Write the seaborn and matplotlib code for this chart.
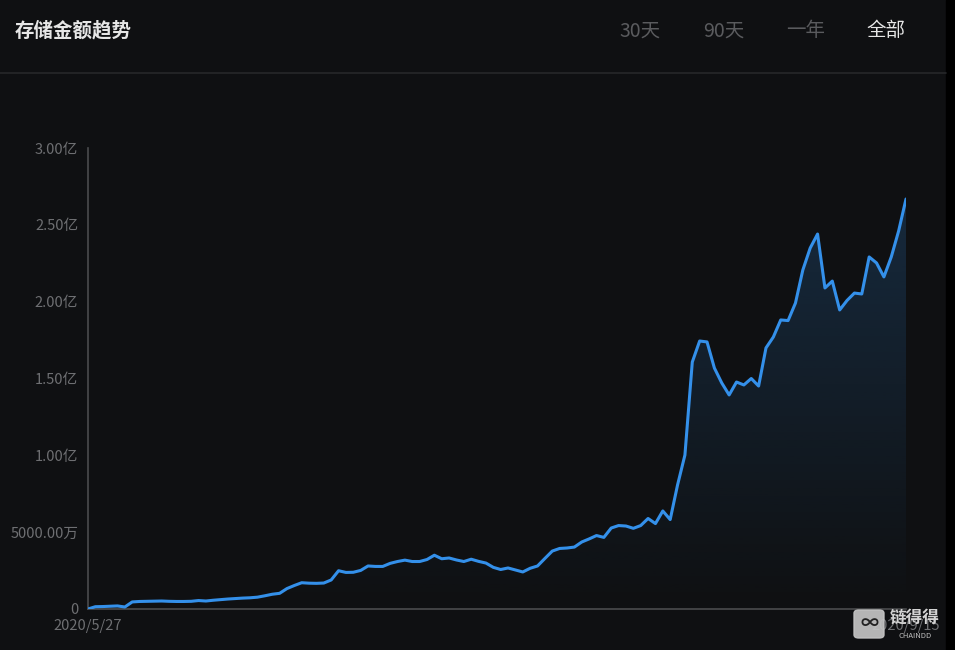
import numpy as np
import pandas as pd
import matplotlib
matplotlib.use("Agg")
import matplotlib.pyplot as plt
from matplotlib.lines import Line2D
from matplotlib.patches import Rectangle, FancyBboxPatch
import seaborn as sns

# Storage amount per day, in 亿 (100 million)
start_date = "2020-05-27"
start_label = "2020/5/27"
end_label = "2020/9/15"
amounts = [
    0.000, 0.015, 0.016, 0.018, 0.020, 0.013, 0.046, 0.049, 0.050, 0.051,
    0.052, 0.050, 0.049, 0.049, 0.050, 0.055, 0.052, 0.057, 0.061, 0.065,
    0.068, 0.071, 0.073, 0.077, 0.086, 0.096, 0.102, 0.133, 0.153, 0.171,
    0.168, 0.167, 0.169, 0.189, 0.249, 0.238, 0.239, 0.251, 0.280, 0.277,
    0.277, 0.297, 0.309, 0.318, 0.309, 0.309, 0.322, 0.350, 0.327, 0.332,
    0.319, 0.309, 0.324, 0.310, 0.299, 0.271, 0.257, 0.267, 0.254, 0.241,
    0.265, 0.280, 0.329, 0.377, 0.394, 0.397, 0.403, 0.436, 0.456, 0.478,
    0.466, 0.527, 0.543, 0.540, 0.525, 0.543, 0.589, 0.556, 0.638, 0.582,
    0.807, 1.002, 1.607, 1.744, 1.738, 1.568, 1.471, 1.393, 1.477, 1.458,
    1.500, 1.451, 1.699, 1.770, 1.881, 1.877, 1.991, 2.206, 2.349, 2.440,
    2.089, 2.134, 1.946, 2.008, 2.056, 2.050, 2.291, 2.252, 2.161, 2.291,
    2.460, 2.668,
]
dates = pd.date_range(start_date, periods=len(amounts), freq="D")

yticks = [0, 0.5, 1.0, 1.5, 2.0, 2.5, 3.0]
ytick_labels = ["0", "5000.00万", "1.00亿", "1.50亿", "2.00亿", "2.50亿", "3.00亿"]
ranges = ["30天", "90天", "一年", "全部"]
range_x = [640, 724, 806, 886]

BG = "#0f1012"
LINE = "#3490ea"
AXIS = "#4a4b4e"
LABEL = "#6e6f72"

sns.set_style("dark")
plt.rcParams["font.family"] = ["Noto Sans CJK SC", "DejaVu Sans"]

W, H = 955, 650
fig = plt.figure(figsize=(W / 100, H / 100), dpi=100, facecolor=BG)
ax = fig.add_axes([88 / W, (H - 609) / H, 818 / W, 461 / H])
ax.set_facecolor(BG)

df = pd.DataFrame({"date": dates, "amount": amounts})
sns.lineplot(data=df, x="date", y="amount", ax=ax, color=LINE, linewidth=2.2, zorder=3)

# gradient area under the line
poly = ax.fill_between(df["date"], df["amount"], 0, facecolor="none", edgecolor="none")
grad = np.zeros((256, 1, 4))
grad[..., 0], grad[..., 1], grad[..., 2] = 52 / 255, 144 / 255, 234 / 255
grad[..., 3] = np.linspace(0.2, 0.0, 256)[:, None]
x0 = matplotlib.dates.date2num(dates[0])
x1 = matplotlib.dates.date2num(dates[-1])
im = ax.imshow(grad, aspect="auto", extent=[x0, x1, 0, max(amounts)],
               origin="upper", zorder=1)
im.set_clip_path(poly.get_paths()[0], transform=ax.transData)

ax.set_xlim(dates[0], dates[-1])
ax.set_ylim(0, 3)
ax.grid(False)

for side in ["top", "right"]:
    ax.spines[side].set_visible(False)
for side in ["left", "bottom"]:
    ax.spines[side].set_color(AXIS)
    ax.spines[side].set_linewidth(1.2)

ax.set_yticks(yticks)
ax.set_yticklabels(ytick_labels)
ax.set_xticks([dates[0], dates[-1]])
ax.set_xticklabels([start_label, end_label])
ax.tick_params(axis="both", length=5, width=1, color=AXIS, labelcolor=LABEL,
               labelsize=10.5, pad=2, direction="out")
ax.tick_params(axis="x", pad=2)
ax.set_xlabel("")
ax.set_ylabel("")

# header
fig.text(15 / W, 1 - 31 / H, "存储金额趋势", fontsize=14, fontweight="bold",
         color="#e6e6e6", va="center", ha="left")
for name, xp in zip(ranges, range_x):
    col = "#e6e6e6" if name == "全部" else "#5a5b5e"
    fig.text(xp / W, 1 - 31 / H, name, fontsize=14, color=col, va="center", ha="center")
fig.add_artist(Line2D([0, 946 / W], [1 - 73 / H] * 2, color="#26272a", lw=1.2))

# dark strip on the right edge
fig.add_artist(Rectangle((946 / W, 0), 9 / W, 1, transform=fig.transFigure,
                         color="#000000", zorder=0))

# watermark (covers the end date label, as in the source)
fig.add_artist(FancyBboxPatch((854 / W, (H - 638) / H), 30 / W, 28 / H,
                              boxstyle="round,pad=0,rounding_size=0.005",
                              transform=fig.transFigure, color="#c4c4c4", alpha=0.92,
                              zorder=5))
fig.text(869 / W, 1 - 624 / H, "∞", fontsize=13, fontweight="bold", color="#222222",
         ha="center", va="center", zorder=6)
fig.text(915 / W, 1 - 618 / H, "链得得", fontsize=12, fontweight="bold", color="#d4d4d4",
         ha="center", va="center", zorder=6)
fig.text(915 / W, 1 - 636 / H, "CHAINDD", fontsize=5.5, color="#c0c0c0",
         ha="center", va="center", zorder=6)

fig.savefig("out.png", dpi=100, facecolor=BG)
